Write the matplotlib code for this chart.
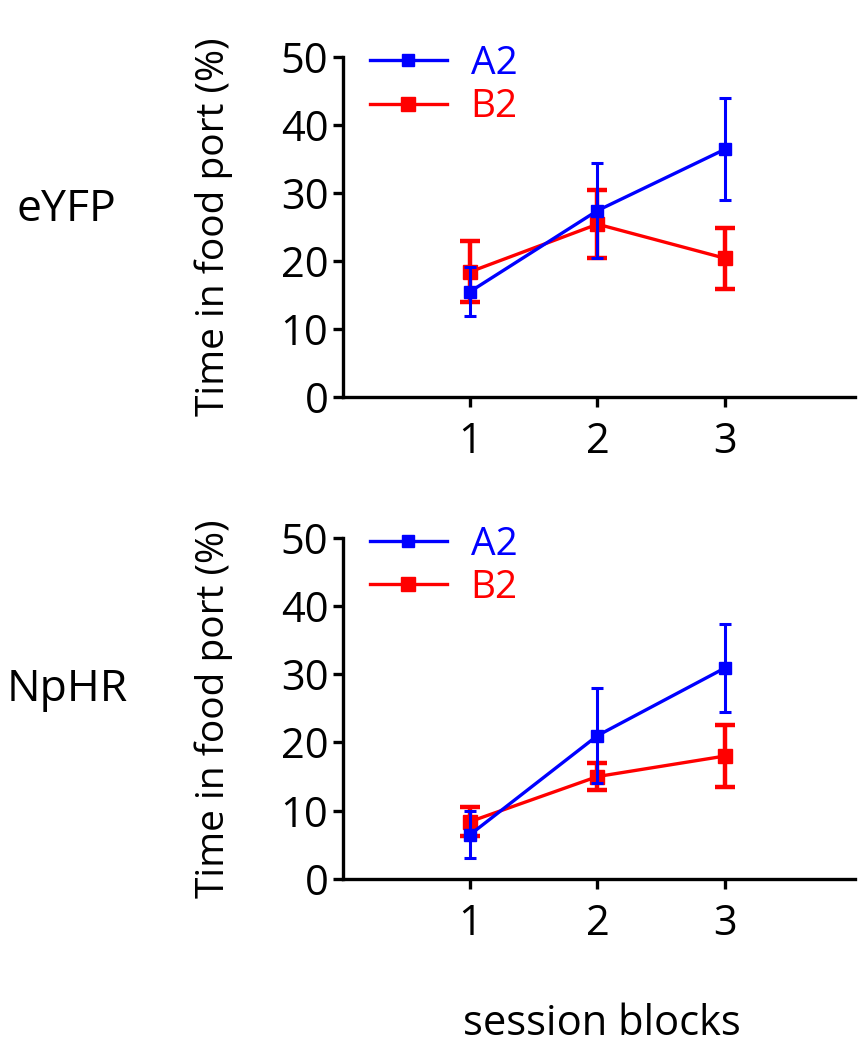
import matplotlib

matplotlib.use("Agg")
import matplotlib.pyplot as plt  # noqa: E402
from matplotlib.lines import Line2D  # noqa: E402

plt.rcParams["font.family"] = ["Open Sans", "DejaVu Sans"]

BLUE = "#0000ff"
RED = "#ff0000"

blocks = [1, 2, 3]
groups = ["eYFP", "NpHR"]

# mean and error (+/-) per session block
eyfp_a2 = [15.5, 27.4, 36.4]
eyfp_a2_err = [3.6, 7.0, 7.5]
eyfp_b2 = [18.4, 25.4, 20.4]
eyfp_b2_err = [4.5, 5.0, 4.5]

nphr_a2 = [6.5, 21.0, 30.9]
nphr_a2_err = [3.5, 7.0, 6.5]
nphr_b2 = [8.4, 15.0, 18.0]
nphr_b2_err = [2.1, 2.0, 4.5]

yticks = [0, 10, 20, 30, 40, 50]

fig = plt.figure(figsize=(8.67, 10.5), dpi=100)
ax_top = fig.add_axes([0.3956, 0.622, 0.590, 0.3238])
ax_bot = fig.add_axes([0.3956, 0.163, 0.590, 0.3248])

panels = [
    (ax_top, groups[0], eyfp_a2, eyfp_a2_err, eyfp_b2, eyfp_b2_err, 0.80),
    (ax_bot, groups[1], nphr_a2, nphr_a2_err, nphr_b2, nphr_b2_err, 0.343),
]

for ax, name, a2, a2e, b2, b2e, name_y in panels:
    ax.errorbar(blocks, b2, yerr=b2e, color=RED, lw=2.4, marker="s", ms=10,
                elinewidth=3.2, capsize=7, capthick=3.2, zorder=2)
    ax.errorbar(blocks, a2, yerr=a2e, color=BLUE, lw=2.4, marker="s", ms=8.5,
                elinewidth=2.2, capsize=4, capthick=2.2, zorder=3)
    ax.set_xlim(0, 4.02)
    ax.set_ylim(0, 50)
    ax.set_xticks(blocks)
    ax.set_yticks(yticks)
    for side in ("top", "right"):
        ax.spines[side].set_visible(False)
    for side in ("left", "bottom"):
        ax.spines[side].set_linewidth(2.4)
    ax.tick_params(width=2.4, length=7.5, labelsize=30)
    ax.tick_params(axis="x", pad=10)
    ax.tick_params(axis="y", pad=3)
    ax.set_ylabel("Time in food port (%)", fontsize=28, labelpad=34)
    handles = [
        Line2D([], [], color=BLUE, lw=2.4, marker="s", ms=8.5),
        Line2D([], [], color=RED, lw=2.4, marker="s", ms=10),
    ]
    ax.legend(handles, ["A2", "B2"], loc="upper left", bbox_to_anchor=(0.052, 1.036),
              frameon=False, fontsize=28, labelcolor="linecolor", handlelength=2.0,
              handletextpad=0.6, labelspacing=0.14, borderaxespad=0, borderpad=0)
    fig.text(0.077, name_y, name, fontsize=32, ha="center", va="center")

fig.text(0.694, 0.025, "session blocks", fontsize=30, ha="center", va="center")

fig.savefig("out.png", dpi=100)
